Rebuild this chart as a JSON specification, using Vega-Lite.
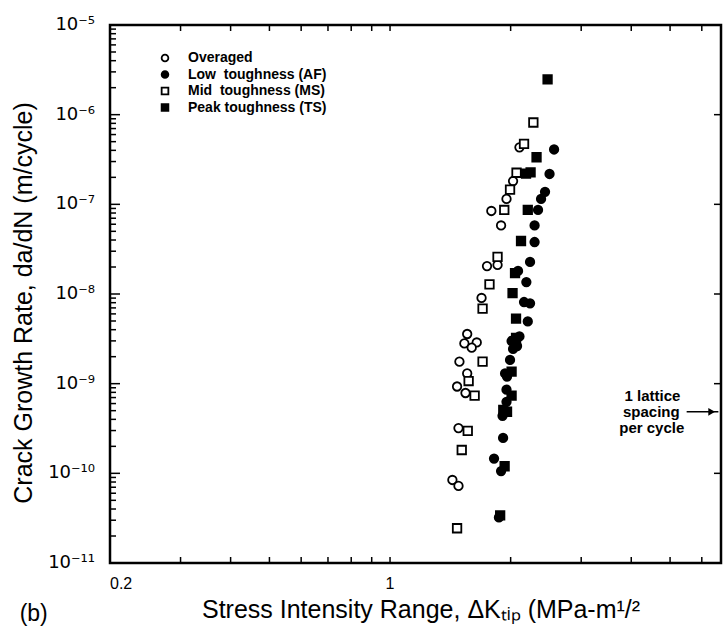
{
  "$schema": "https://vega.github.io/schema/vega-lite/v6.json",
  "autosize": {"type": "none"},
  "padding": {"left": 110, "top": 25, "right": 3, "bottom": 67},
  "width": 611,
  "height": 538,
  "background": "white",
  "config": {
    "view": {"stroke": "black", "strokeWidth": 2.5},
    "font": "Liberation Sans"
  },
  "datasets": {
    "pts": [
      {"s": "Overaged", "x": 2.104, "y": 4.32e-7},
      {"s": "Overaged", "x": 2.028, "y": 1.82e-7},
      {"s": "Overaged", "x": 1.953, "y": 1.15e-7},
      {"s": "Overaged", "x": 1.790, "y": 8.43e-8},
      {"s": "Overaged", "x": 1.893, "y": 5.81e-8},
      {"s": "Overaged", "x": 1.746, "y": 2.05e-8},
      {"s": "Overaged", "x": 1.855, "y": 2.11e-8},
      {"s": "Overaged", "x": 1.692, "y": 9.03e-9},
      {"s": "Overaged", "x": 1.558, "y": 3.58e-9},
      {"s": "Overaged", "x": 1.533, "y": 2.81e-9},
      {"s": "Overaged", "x": 1.646, "y": 2.88e-9},
      {"s": "Overaged", "x": 1.599, "y": 2.52e-9},
      {"s": "Overaged", "x": 1.490, "y": 1.76e-9},
      {"s": "Overaged", "x": 1.558, "y": 1.30e-9},
      {"s": "Overaged", "x": 1.470, "y": 9.30e-10},
      {"s": "Overaged", "x": 1.543, "y": 7.87e-10},
      {"s": "Overaged", "x": 1.482, "y": 3.20e-10},
      {"s": "Overaged", "x": 1.431, "y": 8.43e-11},
      {"s": "Overaged", "x": 1.482, "y": 7.23e-11},
      {"s": "Low\u00a0 toughness (AF)", "x": 2.567, "y": 4.09e-7},
      {"s": "Low\u00a0 toughness (AF)", "x": 2.501, "y": 2.18e-7},
      {"s": "Low\u00a0 toughness (AF)", "x": 2.437, "y": 1.38e-7},
      {"s": "Low\u00a0 toughness (AF)", "x": 2.382, "y": 1.15e-7},
      {"s": "Low\u00a0 toughness (AF)", "x": 2.341, "y": 8.65e-8},
      {"s": "Low\u00a0 toughness (AF)", "x": 2.295, "y": 5.81e-8},
      {"s": "Low\u00a0 toughness (AF)", "x": 2.295, "y": 3.80e-8},
      {"s": "Low\u00a0 toughness (AF)", "x": 2.236, "y": 2.28e-8},
      {"s": "Low\u00a0 toughness (AF)", "x": 2.087, "y": 1.81e-8},
      {"s": "Low\u00a0 toughness (AF)", "x": 2.189, "y": 1.36e-8},
      {"s": "Low\u00a0 toughness (AF)", "x": 2.160, "y": 8.14e-9},
      {"s": "Low\u00a0 toughness (AF)", "x": 2.236, "y": 7.87e-9},
      {"s": "Low\u00a0 toughness (AF)", "x": 2.207, "y": 4.95e-9},
      {"s": "Low\u00a0 toughness (AF)", "x": 2.011, "y": 2.99e-9},
      {"s": "Low\u00a0 toughness (AF)", "x": 2.104, "y": 3.36e-9},
      {"s": "Low\u00a0 toughness (AF)", "x": 2.028, "y": 2.44e-9},
      {"s": "Low\u00a0 toughness (AF)", "x": 2.075, "y": 2.63e-9},
      {"s": "Low\u00a0 toughness (AF)", "x": 1.993, "y": 1.84e-9},
      {"s": "Low\u00a0 toughness (AF)", "x": 1.937, "y": 1.30e-9},
      {"s": "Low\u00a0 toughness (AF)", "x": 1.959, "y": 1.20e-9},
      {"s": "Low\u00a0 toughness (AF)", "x": 1.953, "y": 8.57e-10},
      {"s": "Low\u00a0 toughness (AF)", "x": 1.953, "y": 6.28e-10},
      {"s": "Low\u00a0 toughness (AF)", "x": 1.909, "y": 4.38e-10},
      {"s": "Low\u00a0 toughness (AF)", "x": 1.915, "y": 2.48e-10},
      {"s": "Low\u00a0 toughness (AF)", "x": 1.818, "y": 1.46e-10},
      {"s": "Low\u00a0 toughness (AF)", "x": 1.893, "y": 1.06e-10},
      {"s": "Low\u00a0 toughness (AF)", "x": 1.870, "y": 3.22e-11},
      {"s": "Mid\u00a0 toughness (MS)", "x": 2.279, "y": 8.18e-7},
      {"s": "Mid\u00a0 toughness (MS)", "x": 2.160, "y": 4.73e-7},
      {"s": "Mid\u00a0 toughness (MS)", "x": 2.069, "y": 2.25e-7},
      {"s": "Mid\u00a0 toughness (MS)", "x": 1.993, "y": 1.46e-7},
      {"s": "Mid\u00a0 toughness (MS)", "x": 1.928, "y": 8.65e-8},
      {"s": "Mid\u00a0 toughness (MS)", "x": 1.855, "y": 2.59e-8},
      {"s": "Mid\u00a0 toughness (MS)", "x": 1.771, "y": 1.28e-8},
      {"s": "Mid\u00a0 toughness (MS)", "x": 1.702, "y": 6.86e-9},
      {"s": "Mid\u00a0 toughness (MS)", "x": 1.702, "y": 1.76e-9},
      {"s": "Mid\u00a0 toughness (MS)", "x": 1.571, "y": 1.07e-9},
      {"s": "Mid\u00a0 toughness (MS)", "x": 1.626, "y": 7.34e-10},
      {"s": "Mid\u00a0 toughness (MS)", "x": 1.563, "y": 2.97e-10},
      {"s": "Mid\u00a0 toughness (MS)", "x": 1.510, "y": 1.82e-10},
      {"s": "Mid\u00a0 toughness (MS)", "x": 1.470, "y": 2.44e-11},
      {"s": "Peak toughness (TS)", "x": 2.473, "y": 2.47e-6},
      {"s": "Peak toughness (TS)", "x": 2.321, "y": 3.35e-7},
      {"s": "Peak toughness (TS)", "x": 2.185, "y": 2.20e-7},
      {"s": "Peak toughness (TS)", "x": 2.243, "y": 2.27e-7},
      {"s": "Peak toughness (TS)", "x": 2.207, "y": 8.65e-8},
      {"s": "Peak toughness (TS)", "x": 2.123, "y": 3.90e-8},
      {"s": "Peak toughness (TS)", "x": 2.051, "y": 1.71e-8},
      {"s": "Peak toughness (TS)", "x": 2.022, "y": 1.02e-8},
      {"s": "Peak toughness (TS)", "x": 2.063, "y": 5.32e-9},
      {"s": "Peak toughness (TS)", "x": 2.063, "y": 3.23e-9},
      {"s": "Peak toughness (TS)", "x": 2.011, "y": 1.36e-9},
      {"s": "Peak toughness (TS)", "x": 2.011, "y": 7.34e-10},
      {"s": "Peak toughness (TS)", "x": 1.917, "y": 5.11e-10},
      {"s": "Peak toughness (TS)", "x": 1.959, "y": 4.86e-10},
      {"s": "Peak toughness (TS)", "x": 1.932, "y": 1.20e-10},
      {"s": "Peak toughness (TS)", "x": 1.883, "y": 3.39e-11}
    ],
    "xticks": [{"v": 0.3}, {"v": 0.4}, {"v": 0.5}, {"v": 0.6}, {"v": 0.7}, {"v": 0.8}, {"v": 0.9}, {"v": 1}, {"v": 2}, {"v": 3}, {"v": 4}, {"v": 5}, {"v": 6}],
    "ymajor": [{"v": 1e-10}, {"v": 1e-9}, {"v": 1e-8}, {"v": 1e-7}, {"v": 1e-6}],
    "yminor": [
      {"v": 2e-11}, {"v": 3e-11}, {"v": 4e-11}, {"v": 5e-11}, {"v": 6e-11}, {"v": 7e-11}, {"v": 8e-11}, {"v": 9e-11},
      {"v": 2e-10}, {"v": 3e-10}, {"v": 4e-10}, {"v": 5e-10}, {"v": 6e-10}, {"v": 7e-10}, {"v": 8e-10}, {"v": 9e-10},
      {"v": 2e-9}, {"v": 3e-9}, {"v": 4e-9}, {"v": 5e-9}, {"v": 6e-9}, {"v": 7e-9}, {"v": 8e-9}, {"v": 9e-9},
      {"v": 2e-8}, {"v": 3e-8}, {"v": 4e-8}, {"v": 5e-8}, {"v": 6e-8}, {"v": 7e-8}, {"v": 8e-8}, {"v": 9e-8},
      {"v": 2e-7}, {"v": 3e-7}, {"v": 4e-7}, {"v": 5e-7}, {"v": 6e-7}, {"v": 7e-7}, {"v": 8e-7}, {"v": 9e-7},
      {"v": 2e-6}, {"v": 3e-6}, {"v": 4e-6}, {"v": 5e-6}, {"v": 6e-6}, {"v": 7e-6}, {"v": 8e-6}, {"v": 9e-6}
    ],
    "ylabels": [
      {"v": 1e-11, "t": "10⁻¹¹"},
      {"v": 1e-10, "t": "10⁻¹⁰"},
      {"v": 1e-9, "t": "10⁻⁹"},
      {"v": 1e-8, "t": "10⁻⁸"},
      {"v": 1e-7, "t": "10⁻⁷"},
      {"v": 1e-6, "t": "10⁻⁶"},
      {"v": 1e-5, "t": "10⁻⁵"}
    ],
    "xlab0": [{"v": 0.2, "t": "0.2"}],
    "xlab1": [{"v": 1, "t": "1"}],
    "xtitle": [{"t": "Stress Intensity Range, ΔKₜᵢₚ (MPa-m¹/²", "x": 1.195, "y": 1e-11}],
    "ytitle": [{"t": "Crack Growth Rate, da/dN (m/cycle)", "x": 0.2, "y": 1e-8}],
    "notes": [
      {"t": "1 lattice", "x": 4.52, "y": 7.3e-10},
      {"t": "spacing", "x": 4.49, "y": 4.86e-10},
      {"t": "per cycle", "x": 4.5, "y": 3.22e-10}
    ],
    "arrow": [{"x": 5.5, "x2": 6.6, "y": 4.86e-10}],
    "head": [{"x": 6.35, "y": 4.86e-10}],
    "tag": [{"t": "(b)", "x": 0.129, "y": 2.7e-12}]
  },
  "layer": [
    {
      "data": {"name": "pts"},
      "mark": {"type": "point", "strokeWidth": 1.8, "size": 72, "opacity": 1},
      "encoding": {
        "x": {
          "field": "x", "type": "quantitative",
          "scale": {"type": "log", "domain": [0.2, 6.7], "nice": false},
          "axis": null
        },
        "y": {
          "field": "y", "type": "quantitative",
          "scale": {"type": "log", "domain": [1e-11, 1e-5], "nice": false},
          "axis": null
        },
        "shape": {
          "field": "s", "type": "nominal",
          "scale": {
            "domain": ["Overaged", "Low\u00a0 toughness (AF)", "Mid\u00a0 toughness (MS)", "Peak toughness (TS)"],
            "range": ["circle", "circle", "square", "square"]
          },
          "legend": {
            "orient": "none", "legendX": 48, "legendY": 26, "title": null,
            "labelFontSize": 14, "labelFontWeight": "bold", "labelColor": "black",
            "symbolSize": 45, "symbolStrokeWidth": 1.8,
            "rowPadding": 2.5, "labelOffset": 16
          }
        },
        "fill": {
          "field": "s", "type": "nominal",
          "scale": {
            "domain": ["Overaged", "Low\u00a0 toughness (AF)", "Mid\u00a0 toughness (MS)", "Peak toughness (TS)"],
            "range": ["white", "black", "white", "black"]
          },
          "legend": {
            "orient": "none", "legendX": 48, "legendY": 26, "title": null,
            "labelFontSize": 14, "labelFontWeight": "bold", "labelColor": "black",
            "symbolSize": 45, "symbolStrokeWidth": 1.8,
            "rowPadding": 2.5, "labelOffset": 16
          }
        },
        "stroke": {
          "field": "s", "type": "nominal",
          "scale": {
            "domain": ["Overaged", "Low\u00a0 toughness (AF)", "Mid\u00a0 toughness (MS)", "Peak toughness (TS)"],
            "range": ["black", "black", "black", "black"]
          },
          "legend": {
            "orient": "none", "legendX": 48, "legendY": 26, "title": null,
            "labelFontSize": 14, "labelFontWeight": "bold", "labelColor": "black",
            "symbolSize": 45, "symbolStrokeWidth": 1.8,
            "rowPadding": 2.5, "labelOffset": 16
          }
        }
      }
    },
    {
      "data": {"name": "xticks"},
      "mark": {"type": "tick", "orient": "vertical", "size": 6, "thickness": 1.5, "color": "black", "opacity": 1, "yOffset": -3},
      "encoding": {
        "x": {"field": "v", "type": "quantitative", "axis": null},
        "y": {"datum": 1e-11, "type": "quantitative", "axis": null}
      }
    },
    {
      "data": {"name": "xticks"},
      "mark": {"type": "tick", "orient": "vertical", "size": 6, "thickness": 1.5, "color": "black", "opacity": 1, "yOffset": 3},
      "encoding": {
        "x": {"field": "v", "type": "quantitative", "axis": null},
        "y": {"datum": 1e-5, "type": "quantitative", "axis": null}
      }
    },
    {
      "data": {"name": "yminor"},
      "mark": {"type": "tick", "orient": "horizontal", "size": 6, "thickness": 1.5, "color": "black", "opacity": 1, "xOffset": 3},
      "encoding": {
        "y": {"field": "v", "type": "quantitative", "axis": null},
        "x": {"datum": 0.2, "type": "quantitative", "axis": null}
      }
    },
    {
      "data": {"name": "ymajor"},
      "mark": {"type": "tick", "orient": "horizontal", "size": 10, "thickness": 1.5, "color": "black", "opacity": 1, "xOffset": 5},
      "encoding": {
        "y": {"field": "v", "type": "quantitative", "axis": null},
        "x": {"datum": 0.2, "type": "quantitative", "axis": null}
      }
    },
    {
      "data": {"name": "ymajor"},
      "mark": {"type": "tick", "orient": "horizontal", "size": 7, "thickness": 1.5, "color": "black", "opacity": 1, "xOffset": -3.5},
      "encoding": {
        "y": {"field": "v", "type": "quantitative", "axis": null},
        "x": {"datum": 6.7, "type": "quantitative", "axis": null}
      }
    },
    {
      "data": {"name": "ylabels"},
      "mark": {"type": "text", "font": "DejaVu Sans", "fontSize": 18, "color": "black", "align": "right", "baseline": "middle", "xOffset": -15, "clip": false},
      "encoding": {
        "y": {"field": "v", "type": "quantitative", "axis": null},
        "x": {"datum": 0.2, "type": "quantitative", "axis": null},
        "text": {"field": "t"}
      }
    },
    {
      "data": {"name": "xlab0"},
      "mark": {"type": "text", "fontSize": 16, "color": "black", "align": "left", "baseline": "top", "yOffset": 13, "clip": false},
      "encoding": {
        "x": {"field": "v", "type": "quantitative", "axis": null},
        "y": {"datum": 1e-11, "type": "quantitative", "axis": null},
        "text": {"field": "t"}
      }
    },
    {
      "data": {"name": "xlab1"},
      "mark": {"type": "text", "fontSize": 16, "color": "black", "align": "center", "baseline": "top", "yOffset": 13, "clip": false},
      "encoding": {
        "x": {"field": "v", "type": "quantitative", "axis": null},
        "y": {"datum": 1e-11, "type": "quantitative", "axis": null},
        "text": {"field": "t"}
      }
    },
    {
      "data": {"name": "xtitle"},
      "mark": {"type": "text", "fontSize": 25, "color": "black", "align": "center", "baseline": "alphabetic", "yOffset": 55, "clip": false},
      "encoding": {
        "x": {"field": "x", "type": "quantitative", "axis": null},
        "y": {"field": "y", "type": "quantitative", "axis": null},
        "text": {"field": "t"}
      }
    },
    {
      "data": {"name": "ytitle"},
      "mark": {"type": "text", "fontSize": 25, "color": "black", "align": "center", "baseline": "middle", "angle": 270, "xOffset": -86, "yOffset": 9, "clip": false},
      "encoding": {
        "x": {"field": "x", "type": "quantitative", "axis": null},
        "y": {"field": "y", "type": "quantitative", "axis": null},
        "text": {"field": "t"}
      }
    },
    {
      "data": {"name": "arrow"},
      "mark": {"type": "rule", "stroke": "black", "strokeWidth": 1.6},
      "encoding": {
        "x": {"field": "x", "type": "quantitative", "axis": null},
        "x2": {"field": "x2"},
        "y": {"field": "y", "type": "quantitative", "axis": null}
      }
    },
    {
      "data": {"name": "head"},
      "mark": {"type": "point", "shape": "triangle-right", "filled": true, "color": "black", "size": 60, "opacity": 1},
      "encoding": {
        "x": {"field": "x", "type": "quantitative", "axis": null},
        "y": {"field": "y", "type": "quantitative", "axis": null}
      }
    },
    {
      "data": {"name": "notes"},
      "mark": {"type": "text", "fontSize": 15, "fontWeight": "bold", "color": "black", "align": "center", "baseline": "middle"},
      "encoding": {
        "x": {"field": "x", "type": "quantitative", "axis": null},
        "y": {"field": "y", "type": "quantitative", "axis": null},
        "text": {"field": "t"}
      }
    },
    {
      "data": {"name": "tag"},
      "mark": {"type": "text", "fontSize": 23, "color": "black", "align": "center", "baseline": "middle", "clip": false},
      "encoding": {
        "x": {"field": "x", "type": "quantitative", "axis": null},
        "y": {"field": "y", "type": "quantitative", "axis": null},
        "text": {"field": "t"}
      }
    }
  ]
}
